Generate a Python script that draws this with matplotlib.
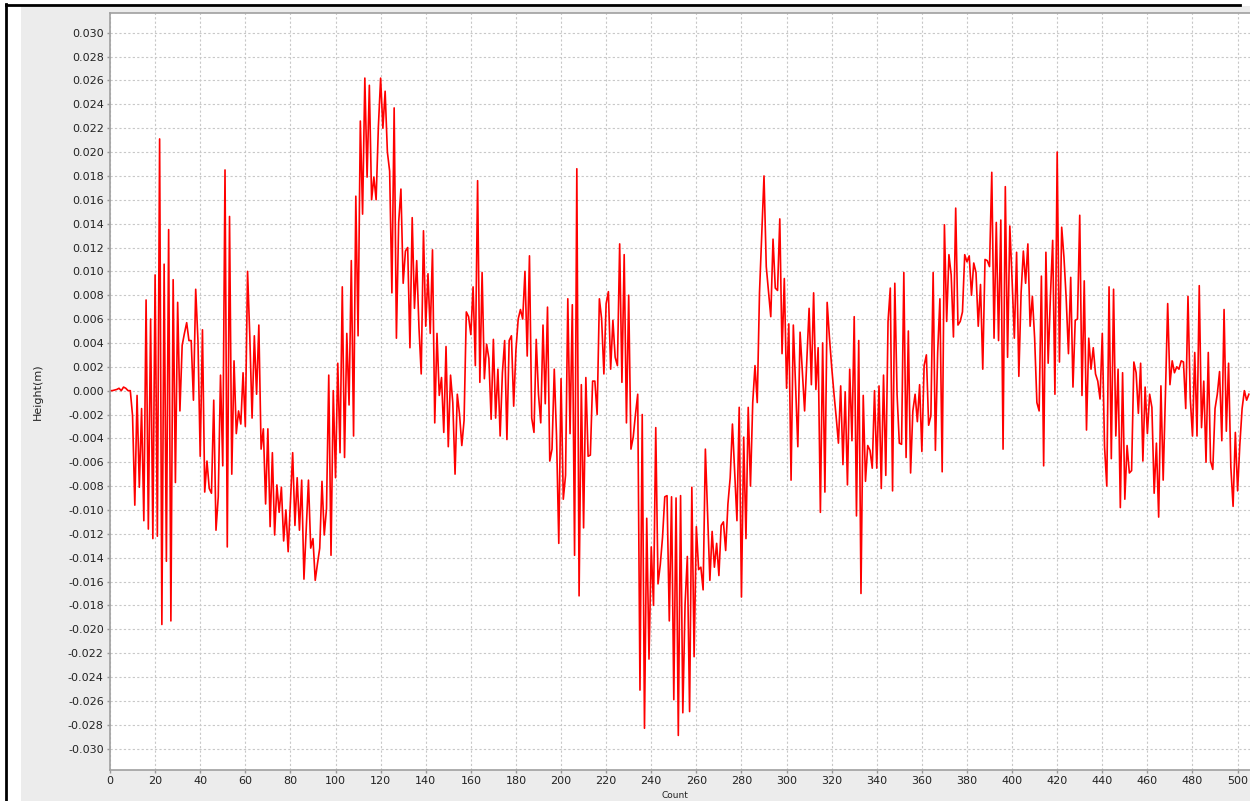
import numpy as np
import matplotlib
matplotlib.use('Agg')
import matplotlib.pyplot as plt
from matplotlib.patches import Rectangle
from matplotlib.lines import Line2D

# height readings in mm, one per count (0..505)
height_mm = [
    0.0, 0.0, 0.05, 0.1, 0.2, 0.0, 0.3, 0.2, 0.0, 0.0,
    -2.1, -9.6, -0.4, -8.1, -1.5, -10.9, 7.6, -11.6, 6.0, -12.4,
    9.7, -12.2, 21.1, -19.6, 10.6, -14.3, 13.5, -19.3, 9.3, -7.7,
    7.4, -1.7, 3.8, 4.8, 5.7, 4.2, 4.2, -0.8, 8.5, 4.2,
    -5.5, 5.1, -8.5, -5.9, -8.2, -8.6, -0.8, -11.7, -8.9, 1.3,
    -6.3, 18.5, -13.1, 14.6, -7.0, 2.5, -3.6, -1.7, -2.8, 1.5,
    -3.0, 10.0, 4.5, -2.3, 4.6, -0.3, 5.5, -4.9, -3.2, -9.5,
    -3.2, -11.4, -5.2, -12.1, -7.9, -10.2, -8.1, -12.6, -10.0, -13.5,
    -9.4, -5.2, -11.3, -7.3, -11.7, -7.5, -15.8, -11.6, -7.5, -13.2,
    -12.4, -15.9, -14.5, -13.2, -7.6, -12.1, -9.9, 1.3, -13.8, 0.0,
    -7.3, 2.3, -5.2, 8.7, -5.6, 4.8, -1.2, 10.9, -3.8, 16.3,
    4.6, 22.6, 14.8, 26.2, 17.9, 25.6, 16.0, 17.9, 16.0, 22.1,
    26.2, 22.0, 25.1, 20.0, 18.4, 8.2, 23.7, 4.4, 14.1, 16.9,
    9.0, 11.7, 12.0, 3.6, 14.5, 6.9, 10.9, 5.3, 1.4, 13.4,
    5.4, 9.8, 4.8, 11.8, -2.7, 4.8, -0.4, 1.1, -3.5, 3.7,
    -4.7, 1.3, -1.0, -7.0, -0.3, -2.0, -4.6, -2.5, 6.6, 6.2,
    4.7, 8.7, 2.1, 17.6, 0.7, 9.9, 1.0, 3.9, 2.7, -2.4,
    4.3, -2.3, 1.8, -3.8, 1.5, 4.2, -4.1, 4.2, 4.6, -1.3,
    3.4, 6.0, 6.8, 6.0, 10.0, 2.9, 11.3, -2.3, -3.5, 4.3,
    -0.3, -2.7, 5.5, -1.1, 7.0, -5.9, -4.9, 1.8, -3.8, -12.8,
    1.0, -9.1, -7.1, 7.7, -3.6, 7.2, -13.8, 18.6, -17.2, 0.5,
    -11.5, 1.1, -5.5, -5.4, 0.8, 0.8, -2.0, 7.7, 6.0, 1.4,
    7.3, 8.3, 1.8, 5.9, 2.8, 2.1, 12.3, 0.7, 11.4, -2.7,
    8.0, -4.9, -3.9, -2.0, -0.3, -25.1, -2.0, -28.3, -10.7, -22.5,
    -13.1, -18.0, -3.1, -16.2, -14.6, -12.3, -8.9, -8.8, -19.3, -8.9,
    -25.9, -9.0, -28.9, -8.8, -27.0, -17.9, -13.9, -26.9, -8.1, -22.3,
    -11.4, -15.0, -14.8, -16.7, -4.9, -10.4, -15.9, -11.8, -14.8, -12.8,
    -15.5, -11.3, -11.0, -13.4, -9.5, -7.3, -2.8, -6.9, -10.9, -1.4,
    -17.3, -3.9, -12.4, -1.4, -8.0, -1.0, 2.1, -1.0, 8.2, 13.1,
    18.0, 10.4, 8.3, 6.2, 12.7, 8.6, 8.4, 14.4, 3.1, 9.4,
    0.2, 5.6, -7.5, 5.5, 0.5, -4.7, 4.9, 1.6, -1.7, 2.6,
    6.9, 0.5, 8.2, 0.1, 3.6, -10.2, 4.0, -8.5, 7.4, 4.5,
    2.0, -0.2, -2.2, -4.4, 0.4, -6.2, -0.1, -7.9, 1.8, -4.2,
    6.2, -10.5, 4.2, -17.0, -0.4, -7.6, -4.6, -5.0, -6.5, 0.0,
    -6.5, 0.4, -8.2, 1.3, -7.1, 5.8, 8.6, -8.4, 9.0, -0.3,
    -4.4, -4.5, 9.9, -5.6, 5.0, -6.9, -1.7, -0.3, -2.6, 0.5,
    -5.1, 2.1, 3.0, -2.9, -2.1, 9.9, -5.0, 3.2, 7.7, -6.8,
    13.9, 5.8, 11.4, 9.7, 4.5, 15.3, 5.5, 5.8, 6.6, 11.4,
    10.8, 11.3, 8.0, 10.7, 9.9, 5.4, 8.9, 1.8, 11.0, 10.9,
    10.4, 18.3, 4.4, 14.1, 4.2, 14.3, -4.9, 17.1, 2.8, 13.8,
    9.3, 4.4, 11.6, 1.2, 8.2, 11.7, 9.0, 12.3, 5.4, 7.9,
    4.4, -1.0, -1.7, 9.6, -6.3, 11.6, 2.3, 7.9, 12.6, -0.3,
    20.0, 2.4, 13.7, 11.2, 7.7, 3.1, 9.5, 0.3, 5.9, 6.0,
    14.7, -0.4, 9.2, -3.3, 4.4, 1.8, 3.6, 1.4, 0.8, -0.7,
    4.8, -4.7, -8.0, 8.7, -5.7, 8.5, -3.8, 1.8, -9.8, 1.5,
    -9.1, -4.6, -6.9, -6.7, 2.4, 1.5, -1.9, 2.3, -5.9, 0.3,
    -3.6, -0.3, -1.4, -8.6, -4.4, -10.6, 0.4, -7.5, -0.3, 7.3,
    0.5, 2.5, 1.5, 2.0, 1.8, 2.5, 2.4, -1.5, 7.9, -0.6,
    -3.8, 3.2, -3.8, 8.8, -3.1, 0.8, -6.0, 3.2, -5.9, -6.6,
    -1.5, -0.3, 1.6, -4.2, 6.8, -3.4, 2.3, -6.4, -9.7, -3.5,
    -8.4, -4.5, -1.5, 0.0, -0.8, -0.3,
]
x_ticks = list(range(0, 501, 20))
y_ticks = [round(v * 0.002, 3) for v in range(-15, 16)]

height = np.array(height_mm) / 1000.0
count = np.arange(len(height))

W, H = 1250, 801
fig = plt.figure(figsize=(W / 100, H / 100), dpi=100, facecolor='white')

# grey window panel + black frame lines of the screenshot (behind the axes)
fig.patches.append(Rectangle((21 / W, 0), 1, (H - 6) / H, transform=fig.transFigure,
                             facecolor='#ececec', edgecolor='none', zorder=-10))
fig.lines.append(Line2D([6 / W, 6 / W], [0, (H - 4) / H], transform=fig.transFigure,
                        color='black', linewidth=2, zorder=-5))
fig.lines.append(Line2D([6 / W, 1240 / W], [(H - 5) / H, (H - 5) / H], transform=fig.transFigure,
                        color='black', linewidth=2, zorder=-5))

ax = fig.add_axes([110 / W, (H - 770) / H, (W - 110) / W, (770 - 12.5) / H])
ax.set_facecolor('white')
ax.plot(count, height, color='#ff0000', linewidth=1.2)

ax.set_xlim(0, 505.5)
ax.set_ylim(-0.0318, 0.0317)
ax.set_xticks(x_ticks)
ax.set_yticks(y_ticks)
ax.set_yticklabels(['%.3f' % v if abs(v) > 1e-9 else '0.000' for v in y_ticks])
ax.grid(True, color='#c8c8c8', linestyle=(0, (2, 2)), linewidth=0.8)
ax.tick_params(axis='both', labelsize=8, colors='#9a9a9a', labelcolor='#222222',
               length=2.5, width=1, pad=2)
for s in ['left', 'bottom', 'top']:
    ax.spines[s].set_color('#a0a0a0')
    ax.spines[s].set_linewidth(1.2)
ax.spines['right'].set_visible(False)

ax.set_ylabel('Height(m)', fontsize=8, color='#222222', labelpad=18)
fig.text(675 / W, 0.5 / H, 'Count', fontsize=6.5, color='#222222', ha='center', va='bottom')

fig.savefig('out.png', dpi=100, facecolor='white')
